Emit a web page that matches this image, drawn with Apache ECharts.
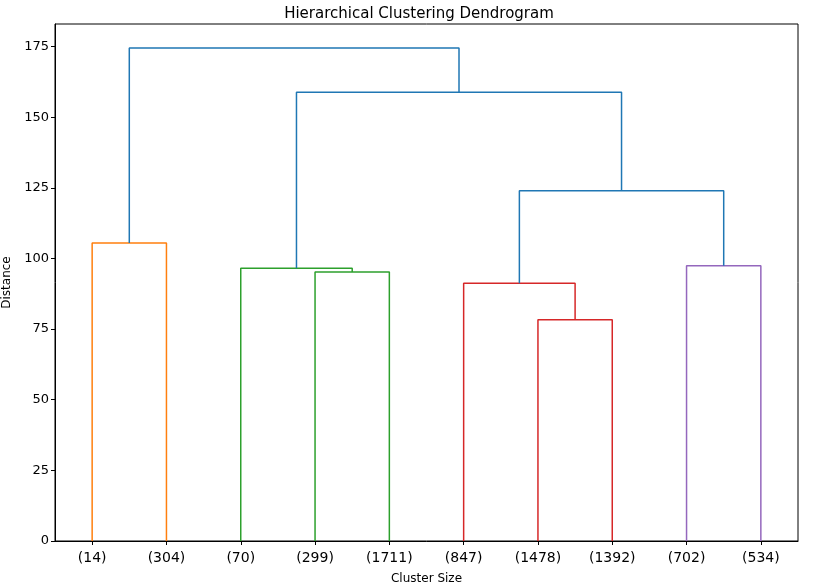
<!DOCTYPE html>
<html>
<head>
<meta charset="utf-8">
<script src="https://cdn.jsdelivr.net/npm/echarts@6/dist/echarts.min.js"></script>
<style>html,body{margin:0;padding:0;background:#fff}#chartmain{width:838px;height:586px}</style>
</head>
<body>
<div id="chartmain"></div>
<script>
// leaf labels and positions (scipy style: 5, 15, 25 ...)
var leafLabels = ['(14)', '(304)', '(70)', '(299)', '(1711)', '(847)', '(1478)', '(1392)', '(702)', '(534)'];
var leafPos = [5, 15, 25, 35, 45, 55, 65, 75, 85, 95];
var yTicks = [0, 25, 50, 75, 100, 125, 150, 175];

// merges: x coords, heights, colour
var icoord = [
	[5, 5, 15, 15],
	[35, 35, 45, 45],
	[25, 25, 40, 40],
	[65, 65, 75, 75],
	[55, 55, 70, 70],
	[85, 85, 95, 95],
	[62.5, 62.5, 90, 90],
	[32.5, 32.5, 76.25, 76.25],
	[10, 10, 54.375, 54.375]
];
var dcoord = [
	[0, 105.5, 105.5, 0],
	[0, 95.2, 95.2, 0],
	[0, 96.5, 96.5, 95.2],
	[0, 78.3, 78.3, 0],
	[0, 91.2, 91.2, 78.3],
	[0, 97.4, 97.4, 0],
	[91.2, 124, 124, 97.4],
	[96.5, 158.8, 158.8, 124],
	[105.5, 174.5, 174.5, 158.8]
];
var linkColors = ['#ff7f0e', '#2ca02c', '#2ca02c', '#d62728', '#d62728', '#9467bd', '#1f77b4', '#1f77b4', '#1f77b4'];

var series = [];
for (var i = 0; i < icoord.length; i++) {
	var pts = [];
	for (var j = 0; j < 4; j++) pts.push([icoord[i][j], dcoord[i][j]]);
	series.push({
		type: 'line',
		data: pts,
		symbol: 'none',
		silent: true,
		lineStyle: { color: linkColors[i], width: 1.5 }
	});
}

var option = {
	animation: false,
	title: {
		text: 'Hierarchical Clustering Dendrogram',
		left: 'center',
		top: 2,
		textStyle: { fontSize: 15, fontWeight: 'normal', color: '#000', fontFamily: 'DejaVu Sans' }
	},
	grid: {
		left: 55, right: 40, top: 24, bottom: 45,
		outerBoundsMode: 'none',
		show: true, borderColor: '#000', borderWidth: 1
	},
	xAxis: {
		type: 'value',
		min: 0, max: 100,
		name: 'Cluster Size',
		nameLocation: 'middle',
		nameGap: 32,
		nameTextStyle: { fontSize: 12, color: '#000', fontFamily: 'DejaVu Sans' },
		splitLine: { show: false },
		axisLine: { lineStyle: { color: '#000' } },
		axisTick: { customValues: leafPos, length: 4, lineStyle: { color: '#000' } },
		axisLabel: {
			customValues: leafPos,
			fontSize: 14, color: '#000', fontFamily: 'DejaVu Sans', margin: 10,
			formatter: function(v) {
				var k = leafPos.indexOf(v);
				return k >= 0 ? leafLabels[k] : '';
			}
		}
	},
	yAxis: {
		type: 'value',
		min: 0, max: 183,
		name: 'Distance',
		nameLocation: 'middle',
		nameGap: 40,
		nameTextStyle: { fontSize: 12, color: '#000', fontFamily: 'DejaVu Sans' },
		splitLine: { show: false },
		axisLine: { show: true, lineStyle: { color: '#000' } },
		axisTick: { show: true, customValues: yTicks, length: 4, lineStyle: { color: '#000' } },
		axisLabel: { customValues: yTicks, fontSize: 13, color: '#000', fontFamily: 'DejaVu Sans', margin: 6 }
	},
	series: series
};
var myChart = echarts.init(document.getElementById('chartmain'));
myChart.setOption(option);
</script>
</body>
</html>
